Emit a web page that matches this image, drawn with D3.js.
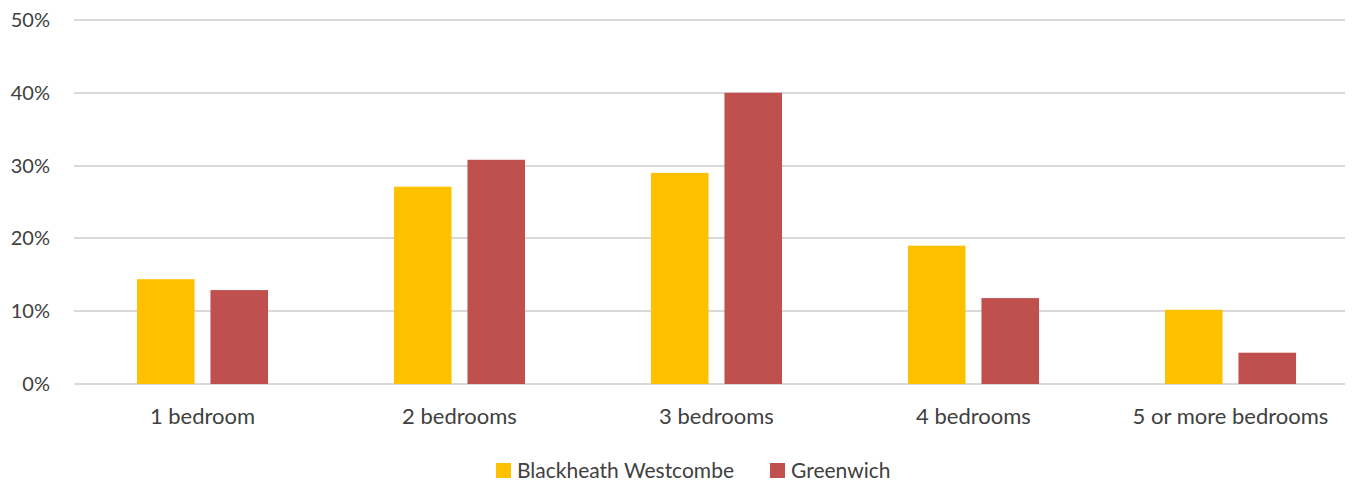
<!DOCTYPE html>
<html><head><meta charset="utf-8">
<script src="https://cdn.jsdelivr.net/npm/d3@7/dist/d3.min.js"></script>
<style>body{margin:0;background:#fff}svg{display:block}text{font-family:"Gill Sans","Gill Sans MT",Lato,sans-serif;fill:#404040}</style>
</head><body>
<svg id="c" width="1363" height="486"></svg>
<script>
const categories = ["1 bedroom","2 bedrooms","3 bedrooms","4 bedrooms","5 or more bedrooms"];
const seriesNames = ["Blackheath Westcombe","Greenwich"];
const blackheath = [14.4, 27.1, 29.0, 19.0, 10.2];
const greenwich = [12.9, 30.8, 40.0, 11.8, 4.3];
const yTicks = [0,10,20,30,40,50];
const colors = ["#FFC000","#C0504D"];

(function(){
const svg = d3.select("#c");
const mL = 74, mR = 1345, mT = 20, mB = 384;
const x = d3.scaleBand().domain(categories).range([mL, mL + 257*5]);
const y = d3.scaleLinear().domain([0,50]).range([mB, mT]);
const bw = x.bandwidth();
const barW = bw*0.224, gap = bw*0.062;

svg.append("g").selectAll("line").data(yTicks).join("line")
  .attr("x1", mL).attr("x2", mR)
  .attr("y1", d=>Math.round(y(d))).attr("y2", d=>Math.round(y(d)))
  .attr("stroke","#D9D9D9").attr("stroke-width",2);

svg.append("g").selectAll("text").data(yTicks).join("text")
  .attr("x", 50).attr("y", d=>y(d)).attr("dy","0.35em")
  .attr("text-anchor","end").style("font-size","20px").text(d=>d+"%");

const data = [blackheath, greenwich];
data.forEach((vals, si) => {
  svg.append("g").selectAll("rect").data(vals).join("rect")
    .attr("x", (d,i)=> x(categories[i]) + bw/2 - (barW + gap/2) + si*(barW+gap))
    .attr("width", barW)
    .attr("y", d=>y(d)).attr("height", d=>y(0)-y(d))
    .attr("fill", colors[si]);
});

svg.append("g").selectAll("text").data(categories).join("text")
  .attr("x", d=>x(d)+bw/2).attr("y", 416).attr("dy","0.35em")
  .attr("text-anchor","middle").style("font-size","22px").text(d=>d);

const leg = svg.append("g");
const legX = [496, 770];
seriesNames.forEach((n,i)=>{
  leg.append("rect").attr("x", legX[i]).attr("y", 463).attr("width",15).attr("height",15).attr("fill", colors[i]);
  leg.append("text").attr("x", legX[i]+21).attr("y", 471).attr("dy","0.35em").style("font-size","21px").text(n);
});
})();
</script>
</body></html>
